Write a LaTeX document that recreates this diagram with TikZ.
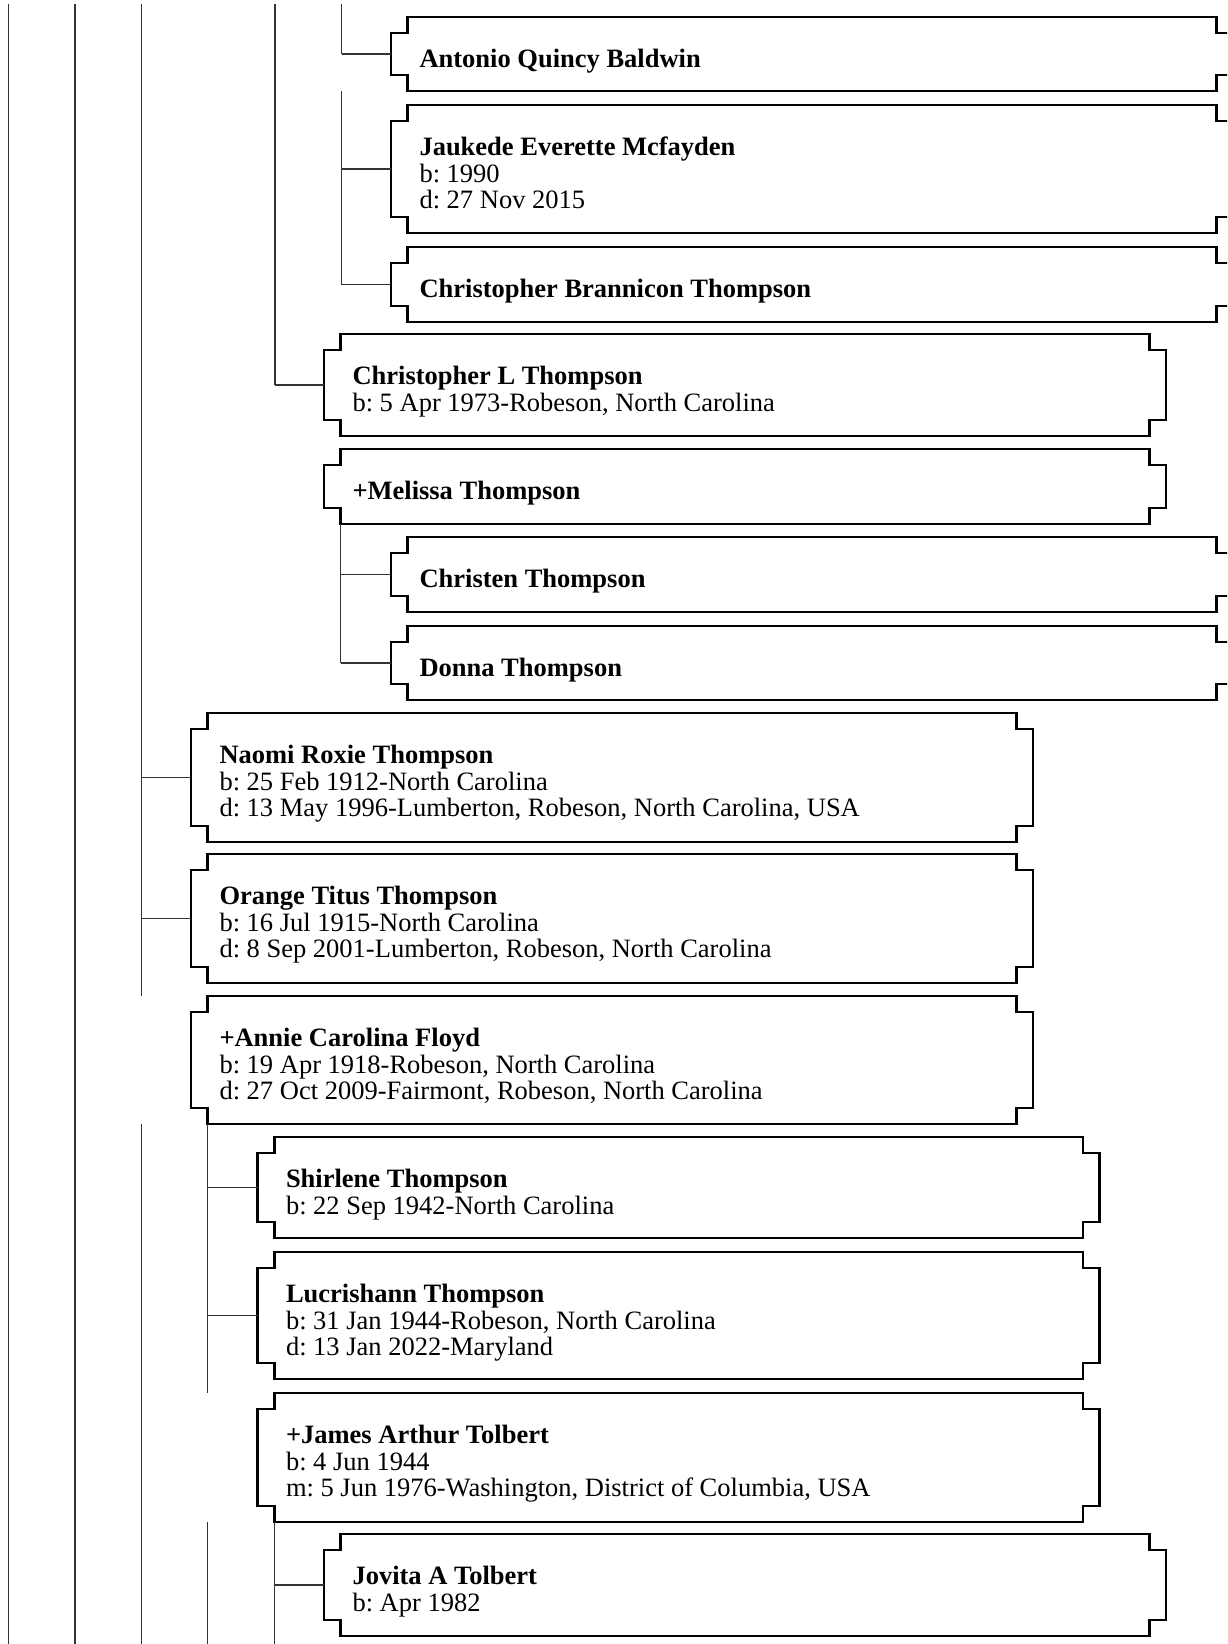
\documentclass[tikz,border=0pt]{standalone}
\usepackage{fontspec}
\setmainfont{Liberation Serif}
\frenchspacing
\tikzset{
  fbox/.style={rectangle, inner sep=0pt, outer sep=0pt, minimum width=842pt, anchor=north west},
  fline/.style={draw=black, line width=2.6pt, line join=miter},
  conn/.style={draw=black!80, line width=1.1pt},
  ftext/.style={anchor=base west, inner sep=0pt, outer sep=0pt, font=\fontsize{26.5}{26.7}\selectfont},
}
\newcommand\famb[5]{%
  \node[fbox, minimum height=#4pt] (#1) at (#2,#3) {};
  \draw[fline] ([xshift=16.7pt]#1.north west) -- ([xshift=-16.7pt]#1.north east)
     |- ([yshift=-16pt]#1.north east) -- ([yshift=16pt]#1.south east)
     -| ([xshift=-16.7pt]#1.south east) -- ([xshift=16.7pt]#1.south west)
     |- ([yshift=16pt]#1.south west) -- ([yshift=-16pt]#1.north west)
     -| ([xshift=16.7pt]#1.north west) -- cycle;
  \node[ftext] (#1-t) at ([xshift=28.5pt,yshift=-50.5pt]#1.north west) {\vtop{#5}};
}
\newcommand\fnm[1]{\hbox{\bfseries #1}}
\newcommand\fln[1]{\hbox{#1}}
\begin{document}
\begin{tikzpicture}[x=1pt,y=-1pt]
\fill[white] (0,0) rectangle (1227,1644);
\useasboundingbox (0,0) rectangle (1227,1644);
\clip (0,0) rectangle (1227,1644);

% columns
\coordinate (c0) at (8.3,4);
\coordinate (c1) at (75,4);
\coordinate (c2) at (141.7,4);
\coordinate (c3) at (208.3,4);
\coordinate (c4) at (275,4);
\coordinate (c5) at (341.7,4);
\coordinate (bot) at (0,1644);

% boxes
\famb{antonio}{391}{17}{74}{\fnm{Antonio Quincy Baldwin}}
\famb{jaukede}{391}{105}{128}{\fnm{Jaukede Everette Mcfayden}\fln{b: 1990}\fln{d: 27 Nov 2015}}
\famb{cbt}{391}{247}{75}{\fnm{Christopher Brannicon Thompson}}
\famb{clt}{324}{334}{102}{\fnm{Christopher L Thompson}\fln{b: 5 Apr 1973-Robeson, North Carolina}}
\famb{melissa}{324}{449}{75}{\fnm{+Melissa Thompson}}
\famb{christen}{391}{537}{75}{\fnm{Christen Thompson}}
\famb{donna}{391}{626}{74}{\fnm{Donna Thompson}}
\famb{naomi}{191}{713}{129}{\fnm{Naomi Roxie Thompson}\fln{b: 25 Feb 1912-North Carolina}\fln{d: 13 May 1996-Lumberton, Robeson, North Carolina, USA}}
\famb{orange}{191}{854}{129}{\fnm{Orange Titus Thompson}\fln{b: 16 Jul 1915-North Carolina}\fln{d: 8 Sep 2001-Lumberton, Robeson, North Carolina}}
\famb{annie}{191}{996}{128}{\fnm{+Annie Carolina Floyd}\fln{b: 19 Apr 1918-Robeson, North Carolina}\fln{d: 27 Oct 2009-Fairmont, Robeson, North Carolina}}
\famb{shirlene}{257.5}{1137}{101}{\fnm{Shirlene Thompson}\fln{b: 22 Sep 1942-North Carolina}}
\famb{lucrishann}{257.5}{1252}{127}{\fnm{Lucrishann Thompson}\fln{b: 31 Jan 1944-Robeson, North Carolina}\fln{d: 13 Jan 2022-Maryland}}
\famb{james}{257.5}{1393}{129}{\fnm{+James Arthur Tolbert}\fln{b: 4 Jun 1944}\fln{m: 5 Jun 1976-Washington, District of Columbia, USA}}
\famb{jovita}{324}{1534}{102}{\fnm{Jovita A Tolbert}\fln{b: Apr 1982}}

% long column lines
\draw[conn] (c0) -- (c0 |- bot);
\draw[conn] (c1) -- (c1 |- bot);
\draw[conn] (c2) -- (c2 |- annie.north);
\draw[conn] (c2 |- annie.south) -- (c2 |- bot);
\draw[conn] (c4) -- (c4 |- clt.west);
\draw[conn] (c5) -- (c5 |- antonio.west);
\draw[conn] (c5 |- antonio.south) -- (c5 |- cbt.west);

% spouse descendant lines
\draw[conn] ([xshift=16.7pt]melissa.south west) -- ([xshift=16.7pt]melissa.south west |- donna.west);
\draw[conn] ([xshift=16.7pt]annie.south west) -- ([xshift=16.7pt]annie.south west |- james.north);
\draw[conn] ([xshift=16.7pt]annie.south west |- james.south) -- ([xshift=16.7pt]annie.south west |- bot);
\draw[conn] ([xshift=16.7pt]james.south west) -- ([xshift=16.7pt]james.south west |- bot);

% child connectors
\draw[conn] (antonio.west) -- (antonio.west -| c5);
\draw[conn] (jaukede.west) -- (jaukede.west -| c5);
\draw[conn] (cbt.west) -- (cbt.west -| c5);
\draw[conn] (clt.west) -- (clt.west -| c4);
\draw[conn] (christen.west) -- ([xshift=16.7pt]christen.west -| melissa.south west);
\draw[conn] (donna.west) -- ([xshift=16.7pt]donna.west -| melissa.south west);
\draw[conn] (naomi.west) -- (naomi.west -| c2);
\draw[conn] (orange.west) -- (orange.west -| c2);
\draw[conn] (shirlene.west) -- ([xshift=16.7pt]shirlene.west -| annie.south west);
\draw[conn] (lucrishann.west) -- ([xshift=16.7pt]lucrishann.west -| annie.south west);
\draw[conn] (jovita.west) -- ([xshift=16.7pt]jovita.west -| james.south west);
\end{tikzpicture}
\end{document}
